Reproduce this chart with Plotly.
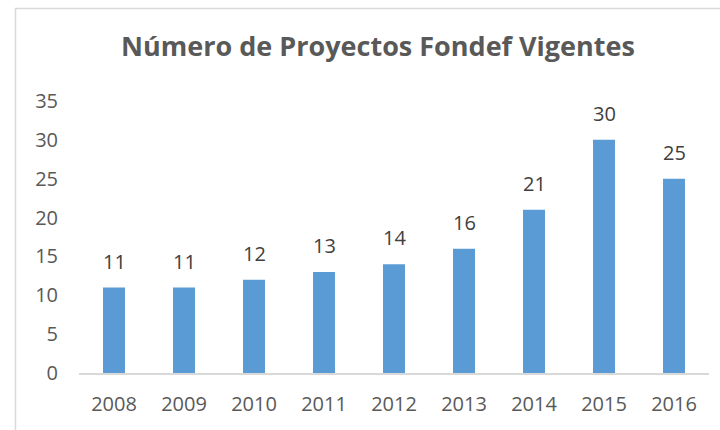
import plotly.graph_objects as go

years = ["2008", "2009", "2010", "2011", "2012", "2013", "2014", "2015", "2016"]
proyectos = [11, 11, 12, 13, 14, 16, 21, 30, 25]
y_ticks = [0, 5, 10, 15, 20, 25, 30, 35]
title_text = "Número de Proyectos Fondef Vigentes"

FONT = "Open Sans"
BAR = "#5b9bd5"

fig = go.Figure()
fig.add_trace(go.Bar(
    x=years, y=proyectos, marker=dict(color=BAR, line=dict(width=0)),
    text=[str(v) for v in proyectos], textposition="none",
    hoverinfo="x+y",
))

for i, v in enumerate(proyectos):
    fig.add_annotation(
        x=i, y=v, xref="x", yref="y", text=str(v), showarrow=False,
        yanchor="bottom", yshift=11,
        font=dict(family=FONT, size=20, color="#404040"),
    )

W, H = 720, 430
L, R, T, B = 79, 11, 101, 57
pw, ph = W - L - R, H - T - B

def px_to_paper_x(px):
    return (px - L) / pw

def px_to_paper_y(py):
    return (H - B - py) / ph

x0 = px_to_paper_x(15.5)
y_top = px_to_paper_y(8.5)
y_bot = px_to_paper_y(H)
x_right = px_to_paper_x(W)

fig.add_shape(
    type="path", xref="paper", yref="paper",
    path=f"M {x0} {y_bot} L {x0} {y_top} L {x_right} {y_top}",
    line=dict(color="#d9d9d9", width=1.5),
)

fig.update_layout(
    width=W, height=H,
    margin=dict(l=L, r=R, t=T, b=B),
    paper_bgcolor="white", plot_bgcolor="white",
    bargap=0.686,
    showlegend=False,
    title=dict(
        text=f"<b>{title_text}</b>", xref="container", x=0.525, xanchor="center",
        yref="container", y=1 - 47 / H, yanchor="middle",
        font=dict(family=FONT, size=27, color="#595959"),
    ),
    xaxis=dict(
        type="category", range=[-0.5, 8.5],
        showline=True, linecolor="#d9d9d9", linewidth=1.5,
        showgrid=False, ticks="", ticklabelstandoff=12,
        tickfont=dict(family=FONT, size=20, color="#595959"),
    ),
    yaxis=dict(
        range=[0, 35], tickvals=y_ticks, ticktext=[str(t) for t in y_ticks],
        showline=False, showgrid=False, zeroline=False, ticks="",
        ticklabelstandoff=20,
        tickfont=dict(family=FONT, size=20, color="#595959"),
    ),
)

fig.write_html(
    "out.html",
    config={"displayModeBar": False},
    post_script="document.body.style.margin='0';document.body.style.padding='0';",
)
